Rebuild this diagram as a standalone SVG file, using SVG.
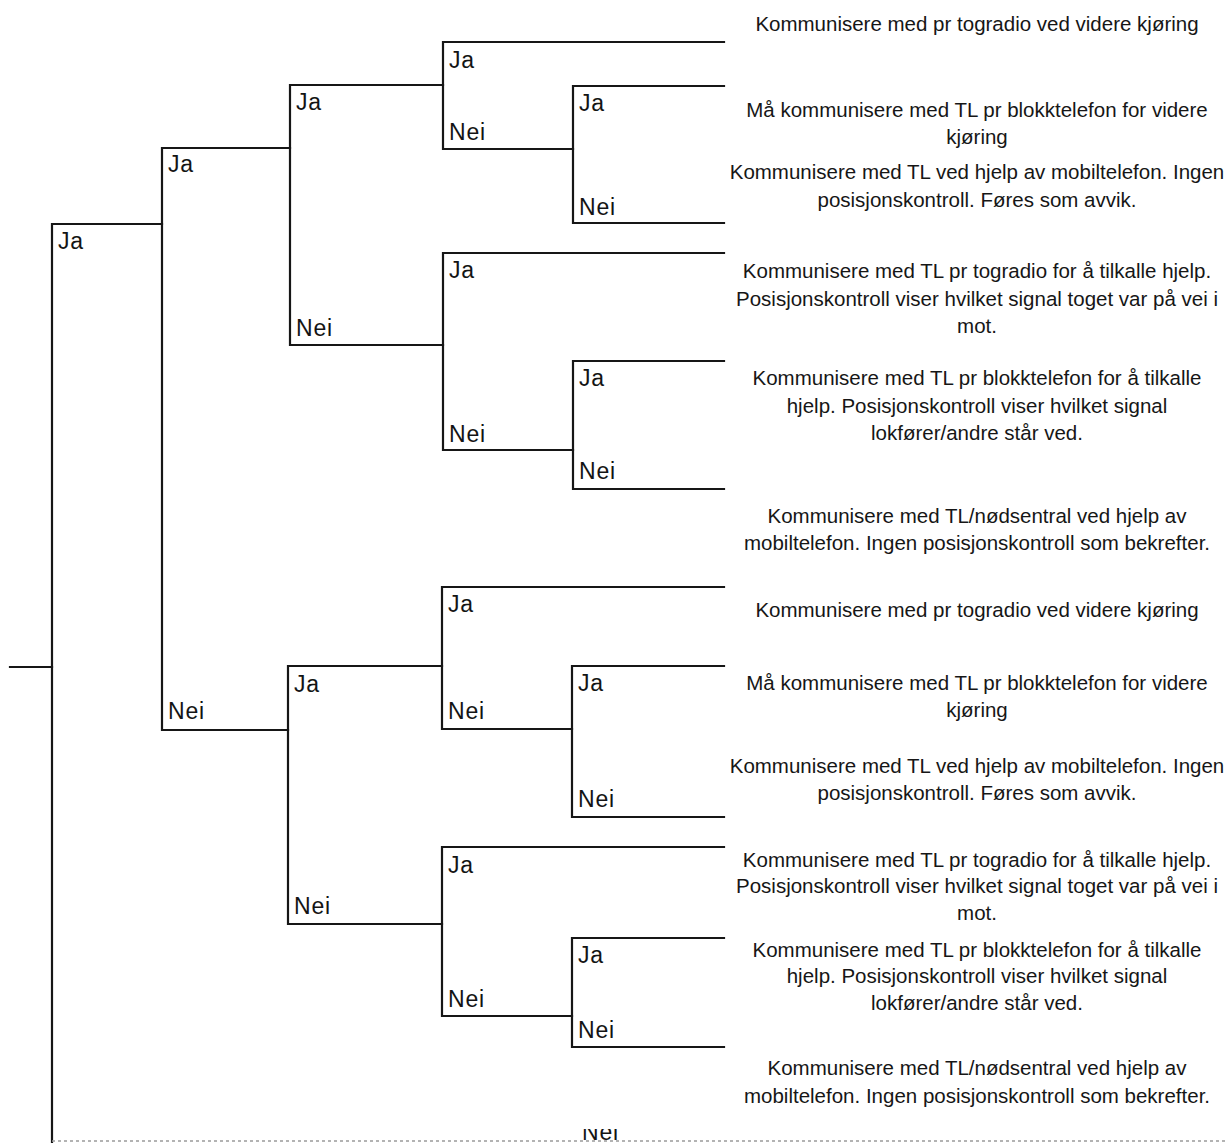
<svg xmlns="http://www.w3.org/2000/svg" width="1228" height="1143" viewBox="0 0 1228 1143">
  <defs>
    <style>
      .tree { fill: none; stroke: #161616; stroke-width: 2.2; stroke-linejoin: miter; stroke-linecap: square; }
      .edge-faint { fill: none; stroke: #9a9a9a; stroke-width: 1.6; stroke-dasharray: 3 3; }
      .lbl { font-family: "Liberation Sans", Arial, sans-serif; font-size: 23px; letter-spacing: 0.8px; fill: #141414; }
      .out { font-family: "Liberation Sans", Arial, sans-serif; font-size: 20.5px; fill: #161616; text-anchor: middle; }
    </style>
    <clipPath id="cut-bottom">
      <rect x="540" y="1129" width="120" height="14"/>
    </clipPath>
  </defs>

  <rect width="1228" height="1143" fill="#ffffff"/>

  <!-- branch lines of the decision tree -->
  <g id="connectors">
    <path class="tree" d="M10 667 H52"/>
    <path class="tree" d="M162 224 H52 V1143"/>
    <path class="tree" d="M290 148 H162 V730 H288"/>
    <path class="tree" d="M443 85 H290 V345 H443"/>
    <path class="tree" d="M724 42 H443 V149 H573"/>
    <path class="tree" d="M724 86 H573 V223 H724"/>
    <path class="tree" d="M724 253 H443 V450 H573"/>
    <path class="tree" d="M724 361 H573 V489 H724"/>
    <path class="tree" d="M442 666 H288 V924 H442"/>
    <path class="tree" d="M724 587 H442 V729 H572"/>
    <path class="tree" d="M724 666 H572 V817 H724"/>
    <path class="tree" d="M724 847 H442 V1016 H572"/>
    <path class="tree" d="M724 938 H572 V1047 H724"/>
    <path class="edge-faint" d="M52 1141 H1228"/>
  </g>

  <!-- branch labels -->
  <g id="l1-ja"><text class="lbl" x="58" y="249">Ja</text></g>
  <g id="l1-nei" clip-path="url(#cut-bottom)"><text class="lbl" x="582" y="1140">Nei</text></g>

  <g id="a-ja"><text class="lbl" x="168" y="172">Ja</text></g>
  <g id="a-nei"><text class="lbl" x="168" y="719">Nei</text></g>

  <g id="aa-ja"><text class="lbl" x="296" y="110">Ja</text></g>
  <g id="aa-nei"><text class="lbl" x="296" y="336">Nei</text></g>

  <g id="aaa-ja"><text class="lbl" x="449" y="68">Ja</text></g>
  <g id="aaa-nei"><text class="lbl" x="449" y="140">Nei</text></g>
  <g id="aaaa-ja"><text class="lbl" x="579" y="111">Ja</text></g>
  <g id="aaaa-nei"><text class="lbl" x="579" y="215">Nei</text></g>

  <g id="aab-ja"><text class="lbl" x="449" y="278">Ja</text></g>
  <g id="aab-nei"><text class="lbl" x="449" y="442">Nei</text></g>
  <g id="aabb-ja"><text class="lbl" x="579" y="386">Ja</text></g>
  <g id="aabb-nei"><text class="lbl" x="579" y="479">Nei</text></g>

  <g id="ab-ja"><text class="lbl" x="294" y="692">Ja</text></g>
  <g id="ab-nei"><text class="lbl" x="294" y="914">Nei</text></g>

  <g id="aba-ja"><text class="lbl" x="448" y="612">Ja</text></g>
  <g id="aba-nei"><text class="lbl" x="448" y="719">Nei</text></g>
  <g id="abab-ja"><text class="lbl" x="578" y="691">Ja</text></g>
  <g id="abab-nei"><text class="lbl" x="578" y="807">Nei</text></g>

  <g id="abb-ja"><text class="lbl" x="448" y="873">Ja</text></g>
  <g id="abb-nei"><text class="lbl" x="448" y="1007">Nei</text></g>
  <g id="abbb-ja"><text class="lbl" x="578" y="963">Ja</text></g>
  <g id="abbb-nei"><text class="lbl" x="578" y="1038">Nei</text></g>

  <!-- outcomes -->
  <g id="out-1"><text class="out" x="977" y="31">Kommunisere med pr togradio ved videre kjøring</text></g>
  <g id="out-2"><text class="out" x="977" y="117">Må kommunisere med TL pr blokktelefon for videre</text><text class="out" x="977" y="144">kjøring</text></g>
  <g id="out-3"><text class="out" x="977" y="179">Kommunisere med TL ved hjelp av mobiltelefon. Ingen</text><text class="out" x="977" y="207">posisjonskontroll. Føres som avvik.</text></g>
  <g id="out-4"><text class="out" x="977" y="278">Kommunisere med TL pr togradio for å tilkalle hjelp.</text><text class="out" x="977" y="306">Posisjonskontroll viser hvilket signal toget var på vei i</text><text class="out" x="977" y="333">mot.</text></g>
  <g id="out-5"><text class="out" x="977" y="385">Kommunisere med TL pr blokktelefon for å tilkalle</text><text class="out" x="977" y="413">hjelp. Posisjonskontroll viser hvilket signal</text><text class="out" x="977" y="440">lokfører/andre står ved.</text></g>
  <g id="out-6"><text class="out" x="977" y="523">Kommunisere med TL/nødsentral ved hjelp av</text><text class="out" x="977" y="550">mobiltelefon. Ingen posisjonskontroll som bekrefter.</text></g>

  <g id="out-7"><text class="out" x="977" y="617">Kommunisere med pr togradio ved videre kjøring</text></g>
  <g id="out-8"><text class="out" x="977" y="690">Må kommunisere med TL pr blokktelefon for videre</text><text class="out" x="977" y="717">kjøring</text></g>
  <g id="out-9"><text class="out" x="977" y="773">Kommunisere med TL ved hjelp av mobiltelefon. Ingen</text><text class="out" x="977" y="800">posisjonskontroll. Føres som avvik.</text></g>
  <g id="out-10"><text class="out" x="977" y="867">Kommunisere med TL pr togradio for å tilkalle hjelp.</text><text class="out" x="977" y="893">Posisjonskontroll viser hvilket signal toget var på vei i</text><text class="out" x="977" y="920">mot.</text></g>
  <g id="out-11"><text class="out" x="977" y="957">Kommunisere med TL pr blokktelefon for å tilkalle</text><text class="out" x="977" y="983">hjelp. Posisjonskontroll viser hvilket signal</text><text class="out" x="977" y="1010">lokfører/andre står ved.</text></g>
  <g id="out-12"><text class="out" x="977" y="1075">Kommunisere med TL/nødsentral ved hjelp av</text><text class="out" x="977" y="1103">mobiltelefon. Ingen posisjonskontroll som bekrefter.</text></g>
</svg>
